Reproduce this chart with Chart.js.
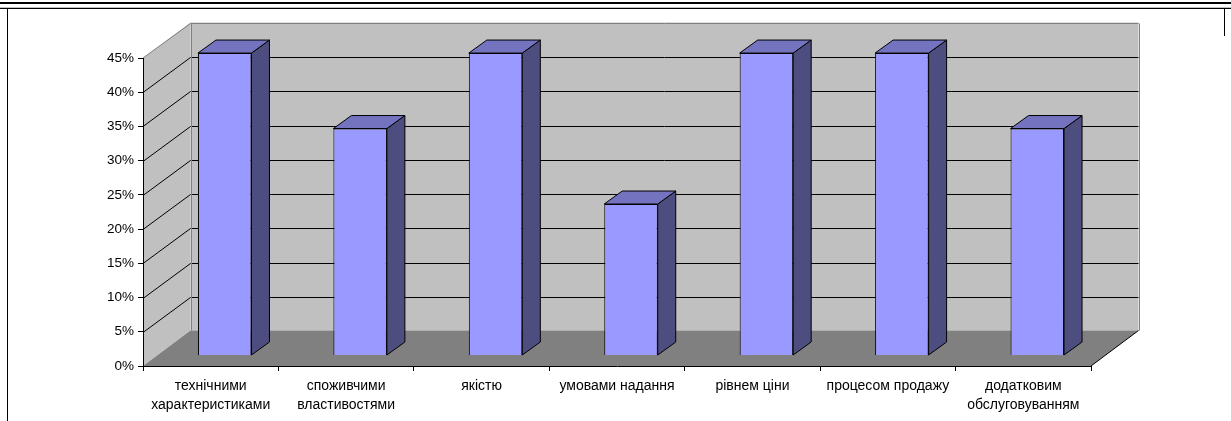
<!DOCTYPE html>
<html><head><meta charset="utf-8">
<script src="https://cdn.jsdelivr.net/npm/chart.js@4.4.1/dist/chart.umd.min.js"></script>
<style>html,body{margin:0;padding:0;background:#fff;overflow:hidden}#wrap{width:1231px;height:421px;position:relative}</style>
</head><body><div id="wrap"><canvas id="c"></canvas></div>
<script>
// ---- data ----
const categories = [
  ["технічними", "характеристиками"],
  ["споживчими", "властивостями"],
  "якістю",
  "умовами надання",
  "рівнем ціни",
  "процесом продажу",
  ["додатковим", "обслуговуванням"]
];
const values = [44.4, 33.3, 44.4, 22.2, 44.4, 44.4, 33.3];
const yTickValues = [0, 5, 10, 15, 20, 25, 30, 35, 40, 45];
const yTickSuffix = "%";

// ---- 3D look ----
const WALL_DX = 47.5, WALL_DY = -35.5;   // depth of floor / side wall
const BAR_DX = 14, BAR_DY = -11;         // bar front plane offset
const FACE_DX = 18, FACE_DY = -13;       // bar depth
const FAMILY = "'Liberation Sans', Arial, sans-serif";

function poly(ctx, pts, fill, stroke) {
  ctx.beginPath();
  ctx.moveTo(pts[0][0], pts[0][1]);
  for (let i = 1; i < pts.length; i++) ctx.lineTo(pts[i][0], pts[i][1]);
  ctx.closePath();
  if (fill) { ctx.fillStyle = fill; ctx.fill(); }
  if (stroke) { ctx.strokeStyle = stroke; ctx.lineWidth = 1; ctx.stroke(); }
}
function line(ctx, x1, y1, x2, y2, color) {
  ctx.beginPath(); ctx.moveTo(x1, y1); ctx.lineTo(x2, y2);
  ctx.strokeStyle = color; ctx.lineWidth = 1; ctx.stroke();
}

const scene = {
  id: 'scene',
  beforeDraw(chart) {
    const { ctx, chartArea: a, scales: { y } } = chart;
    const W = chart.width, H = chart.height;
    ctx.save();
    // page frame
    ctx.fillStyle = '#000'; ctx.fillRect(0, 2, W, 2);
    ctx.fillStyle = '#c0c0c0'; ctx.fillRect(0, 7, W, 1);
    ctx.fillStyle = '#000'; ctx.fillRect(0, 8, W, 1);
    ctx.fillRect(7, 8, 1, H - 8);
    ctx.fillRect(1224, 8, 1, 28);

    const L = a.left, R = a.right;
    const T = y.getPixelForValue(yTickValues[yTickValues.length - 1]);
    const B = y.getPixelForValue(0);
    const dx = WALL_DX, dy = WALL_DY;
    // back wall
    poly(ctx, [[L + dx, T + dy], [R + dx, T + dy], [R + dx, B + dy], [L + dx, B + dy]], '#c0c0c0');
    // left wall
    poly(ctx, [[L, T], [L + dx, T + dy], [L + dx, B + dy], [L, B]], '#c0c0c0');
    // floor
    poly(ctx, [[L, B], [R, B], [R + dx, B + dy], [L + dx, B + dy]], '#808080');
    // gridlines
    for (const v of yTickValues) {
      if (v <= 0 || v >= yTickValues[yTickValues.length - 1]) continue;
      const py = Math.round(y.getPixelForValue(v)) + 0.5;
      const by = Math.round(py + dy) + 0.5;
      line(ctx, L, py, L + dx, by, '#000');
      line(ctx, L + dx, by, R + dx, by, '#000');
    }
    // wall edges
    const tb = Math.round(T + dy) + 0.5;
    line(ctx, L, T, L + dx, tb, '#808080');
    line(ctx, L + dx, tb, R + dx, tb, '#808080');
    line(ctx, Math.round(L + dx) + 0.5, tb, Math.round(L + dx) + 0.5, B + dy, '#808080');
    line(ctx, Math.round(R + dx) + 0.5, tb, Math.round(R + dx) + 0.5, B + dy, '#808080');
    line(ctx, R, B, R + dx, B + dy, '#000');
    ctx.restore();
  },
  beforeDatasetsDraw(chart) {
    chart.ctx.save();
    chart.ctx.translate(BAR_DX, BAR_DY);
  },
  afterDatasetsDraw(chart) {
    const ctx = chart.ctx;
    const meta = chart.getDatasetMeta(0);
    meta.data.forEach(el => {
      const p = el.getProps(['x', 'y', 'base', 'width'], true);
      const l = p.x - p.width / 2, r = p.x + p.width / 2, t = p.y, b = p.base;
      poly(ctx, [[r, t], [r + FACE_DX, t + FACE_DY], [r + FACE_DX, b + FACE_DY], [r, b]], '#4d4d80', '#000');
      poly(ctx, [[l, t], [l + FACE_DX, t + FACE_DY], [r + FACE_DX, t + FACE_DY], [r, t]], '#7373bf', '#000');
    });
    ctx.restore();
  }
};

new Chart(document.getElementById('c'), {
  type: 'bar',
  data: {
    labels: categories,
    datasets: [{
      data: values,
      backgroundColor: '#9999ff',
      borderColor: '#000',
      borderWidth: 1,
      barPercentage: 0.395,
      categoryPercentage: 1,
      yAxisID: 'y2',
      clip: false
    }]
  },
  options: {
    responsive: true,
    maintainAspectRatio: false,
    animation: false,
    devicePixelRatio: 1,
    layout: { padding: { top: 58, right: 140, left: 0, bottom: 0 } },
    plugins: { legend: { display: false }, tooltip: { enabled: false } },
    scales: {
      x: {
        type: 'category',
        offset: true,
        afterFit: s => { s.height = 55; },
        grid: { display: true, drawOnChartArea: false, drawTicks: true, tickLength: 5, color: '#000', offset: true },
        border: { display: true, color: '#000', width: 1 },
        ticks: { color: '#000', font: { family: FAMILY, size: 14, lineHeight: 1.4 }, padding: 5, maxRotation: 0, autoSkip: false }
      },
      y: {
        type: 'linear',
        min: 0, max: 45,
        afterFit: s => { s.width = 143; },
        afterBuildTicks: s => { s.ticks = yTickValues.map(v => ({ value: v })); },
        grid: { display: true, drawOnChartArea: false, drawTicks: true, tickLength: 5, color: '#000' },
        border: { display: true, color: '#000', width: 1 },
        ticks: { color: '#000', font: { family: FAMILY, size: 13.5 }, padding: 4, callback: v => v + yTickSuffix }
      },
      y2: {
        type: 'linear',
        display: false,
        min: 0, max: 45.29
      }
    }
  },
  plugins: [scene]
});
</script>
</body></html>
